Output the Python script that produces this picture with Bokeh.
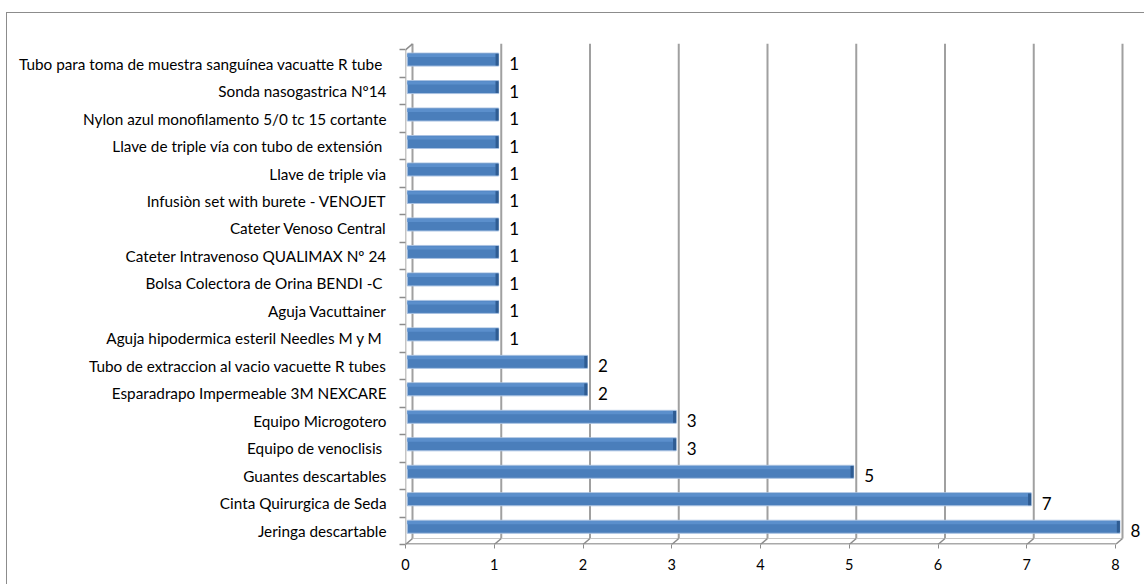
from bokeh.plotting import figure
from bokeh.models import Range1d, FixedTicker, ColumnDataSource
from bokeh.core.properties import value
from bokeh.embed import file_html
from bokeh.resources import INLINE

# ---- data (bottom to top) ----
categories = [
    "Jeringa descartable",
    "Cinta Quirurgica de Seda",
    "Guantes descartables",
    "Equipo de venoclisis ",
    "Equipo Microgotero",
    "Esparadrapo Impermeable 3M NEXCARE",
    "Tubo de extraccion al vacio vacuette R tubes",
    "Aguja hipodermica esteril Needles  M y M",
    "Aguja Vacuttainer",
    "Bolsa Colectora de Orina  BENDI -C",
    "Cateter Intravenoso QUALIMAX Nº 24",
    "Cateter Venoso Central",
    "Infusiòn set with burete - VENOJET",
    "Llave de triple via",
    "Llave de triple vía con tubo de extensión ",
    "Nylon azul monofilamento 5/0 tc 15 cortante",
    "Sonda nasogastrica Nº14",
    "Tubo para toma de muestra sanguínea vacuatte  R tube",
]
values = [8, 7, 5, 3, 3, 2, 2, 1, 1, 1, 1, 1, 1, 1, 1, 1, 1, 1]
x_ticks = [0, 1, 2, 3, 4, 5, 6, 7, 8]

FONT = "Lato"
n = len(categories)
pos = list(range(n))

OFF_L, OFF_T = 7, 13          # chart-area border offset in the window
W, H = 1145 - OFF_L, 585 - OFF_T
left_b, right_b, top_b, bot_b = 405 - OFF_L, 2, 40 - OFF_T, 41
y0, y1 = -0.5, 17.84
x0 = 0
px_x = 88.75
x1 = (W - left_b - right_b) / px_x
px_y = (H - top_b - bot_b) / (y1 - y0)

# 3D depth offsets (back wall shift) in data units
dx = 7 / px_x
dy = 6 / px_y
bar_shift = 4 / px_y
bar_h = 13 / px_y

p = figure(width=W, height=H, output_backend="svg", toolbar_location=None,
           x_range=Range1d(x0, x1), y_range=Range1d(y0, y1),
           min_border_left=left_b, min_border_right=right_b,
           min_border_top=top_b, min_border_bottom=bot_b)
p.styles = {"margin-left": "6px", "margin-top": "12px",
            "border-left": "1px solid #8c8c8c", "border-top": "1px solid #8c8c8c"}
p.outline_line_color = None
p.xgrid.visible = False
p.ygrid.visible = False
p.background_fill_color = "white"
p.border_fill_color = "white"

grid_c = "#a0a0a0"
axis_c = "#8c8c8c"

# back-wall gridlines
xmax = max(x_ticks)
p.segment(x0=[t + dx for t in x_ticks], y0=[y0 + dy] * len(x_ticks),
          x1=[t + dx for t in x_ticks], y1=[n - 0.5 + dy] * len(x_ticks),
          line_color=grid_c, line_width=2)
# floor back edge
p.segment(x0=[dx], y0=[y0 + dy], x1=[xmax + dx], y1=[y0 + dy],
          line_color="#c8c8c8", line_width=1)
# floor diagonals at ticks
p.segment(x0=x_ticks, y0=[y0] * len(x_ticks),
          x1=[t + dx for t in x_ticks], y1=[y0 + dy] * len(x_ticks),
          line_color=axis_c, line_width=1.5)
# floor front edge
p.segment(x0=[0], y0=[y0 + 0.02], x1=[xmax], y1=[y0 + 0.02],
          line_color=axis_c, line_width=1.5)
# left front axis and top slant
p.segment(x0=[0], y0=[y0], x1=[0], y1=[n - 0.5], line_color=axis_c, line_width=1.5)
p.segment(x0=[0], y0=[n - 0.5], x1=[dx], y1=[n - 0.5 + dy], line_color=axis_c, line_width=1.5)

# bars
src = ColumnDataSource(dict(
    y=[i + bar_shift for i in pos],
    yt=[i + bar_shift + bar_h * 0.32 for i in pos],
    ylab=pos,
    left=[0.02] * n,
    right=[v + 0.05 for v in values],
    cap_l=[v + 0.015 for v in values],
    v=values,
    txt=[str(v) for v in values],
))
p.hbar(y="y", left="left", right="right", height=bar_h, source=src,
       fill_color="#4a7ebb", line_color="#a9c2e2", line_width=1)
p.hbar(y="yt", left="left", right="cap_l", height=bar_h * 0.25, source=src,
       fill_color="#5b8fcc", line_color=None)
p.hbar(y="y", left="cap_l", right="right", height=bar_h * 0.9, source=src,
       fill_color="#2f5c92", line_color=None)

# value labels
p.text(x="v", y="ylab", text="txt", source=src, x_offset=15,
       text_align="left", text_baseline="middle",
       text_font=value(FONT), text_font_size="17px", text_color="black")

# x axis
xa = p.xaxis[0]
xa.ticker = FixedTicker(ticks=x_ticks)
xa.axis_line_color = None
xa.major_tick_out = 4
xa.major_tick_in = 0
xa.major_tick_line_color = axis_c
xa.minor_tick_line_color = None
xa.major_label_standoff = 10
xa.major_label_text_font = FONT
xa.major_label_text_font_size = "14.5px"
xa.major_label_text_color = "black"

# y axis
ya = p.yaxis[0]
ya.ticker = FixedTicker(ticks=pos, minor_ticks=[i - 0.5 for i in range(n + 1)])
ya.axis_line_color = None
ya.major_tick_out = 0
ya.major_tick_in = 0
ya.major_tick_line_color = None
ya.minor_tick_out = 6
ya.minor_tick_in = 0
ya.minor_tick_line_color = axis_c
ya.minor_tick_line_width = 1.5
ya.major_label_standoff = 13
ya.major_label_overrides = {i: c for i, c in zip(pos, categories)}
ya.major_label_text_font = FONT
ya.major_label_text_font_size = "15.3px"
ya.major_label_text_color = "black"

open("out.html", "w").write(file_html(p, INLINE))
